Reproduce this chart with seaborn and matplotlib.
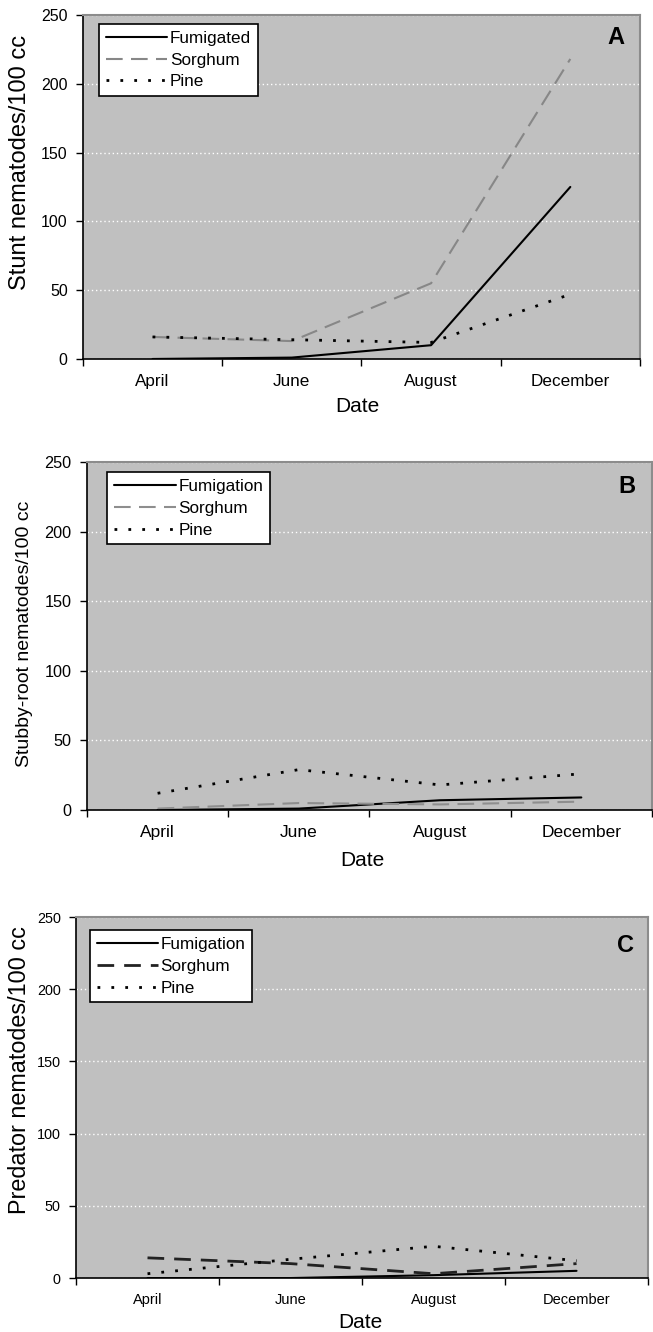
import numpy as np
import pandas as pd
import matplotlib
matplotlib.use("Agg")
import matplotlib.pyplot as plt
from matplotlib.ticker import FixedLocator
import seaborn as sns

# ---------------- data ----------------
months = ["April", "June", "August", "December"]
yticks = [0, 50, 100, 150, 200, 250]

stunt_fumigated = [0, 1, 10, 125]
stunt_sorghum = [16, 13, 55, 218]
stunt_pine = [16, 14, 12, 47]

stubby_fumigation = [0, 1, 7, 9]
stubby_sorghum = [1, 5, 4, 6]
stubby_pine = [12, 29, 18, 26]

pred_fumigation = [0, 0, 2, 5]
pred_sorghum = [14, 10, 3, 10]
pred_pine = [3, 13, 22, 12]

panel_letters = ["A", "B", "C"]
ylabels = ["Stunt nematodes/100 cc", "Stubby-root nematodes/100 cc",
           "Predator nematodes/100 cc"]
legend_names = [["Fumigated", "Sorghum", "Pine"],
                ["Fumigation", "Sorghum", "Pine"],
                ["Fumigation", "Sorghum", "Pine"]]

# ---------------- style ----------------
sns.set_style("ticks")
plt.rcParams["font.family"] = ["Liberation Sans", "DejaVu Sans"]
plt.rcParams["text.color"] = "black"
plt.rcParams["axes.labelcolor"] = "black"
plt.rcParams["xtick.color"] = "black"
plt.rcParams["ytick.color"] = "black"
plt.rcParams["xtick.labelcolor"] = "black"
plt.rcParams["ytick.labelcolor"] = "black"

fig = plt.figure(figsize=(6.53, 13.32), dpi=100)

panels = [
    dict(rect=[0.127, 0.7305, 0.853, 0.2583],
         series=[stunt_fumigated, stunt_sorghum, stunt_pine],
         colors=["black", "#878787", "black"],
         lws=[1.5, 1.5, 2.0],
         styles=["-", (0, (8, 4)), (0, (1, 4))],
         ylab_size=17, ylab_xy=(-0.093, 0.57),
         xlab_xy=(0.492, -0.110),
         xt_size=12.3, yt_size=11.5,
         leg_xy=(0.029, 0.974), letter_xy=(0.957, 0.933)),
    dict(rect=[0.1332, 0.3919, 0.8652, 0.2613],
         series=[stubby_fumigation, stubby_sorghum, stubby_pine],
         colors=["black", "#8e8e8e", "black"],
         lws=[1.5, 1.5, 2.0],
         styles=["-", (0, (8, 4)), (0, (1, 4))],
         ylab_size=14, ylab_xy=(-0.096, 0.506),
         xlab_xy=(0.487, -0.118),
         xt_size=12.5, yt_size=11.7,
         leg_xy=(0.036, 0.971), letter_xy=(0.956, 0.928)),
    dict(rect=[0.1164, 0.0405, 0.876, 0.271],
         series=[pred_fumigation, pred_sorghum, pred_pine],
         colors=["black", "#222222", "black"],
         lws=[1.5, 2.0, 2.0],
         styles=["-", (0, (6, 3.6)), (0, (1, 4))],
         ylab_size=16.8, ylab_xy=(-0.079, 0.576),
         xlab_xy=(0.497, -0.097),
         xt_size=10.5, yt_size=10.4,
         leg_xy=(0.024, 0.964), letter_xy=(0.96, 0.922)),
]

x = np.arange(len(months))

for i, p in enumerate(panels):
    ax = fig.add_axes(p["rect"])
    ax.set_facecolor("#c0c0c0")
    for vals, name, col, lw, ls in zip(p["series"], legend_names[i],
                                       p["colors"], p["lws"], p["styles"]):
        sns.lineplot(x=x, y=vals, ax=ax, color=col, lw=lw, linestyle=ls,
                     label=name, errorbar=None, sort=False)

    ax.set_xlim(-0.5, len(months) - 0.5)
    ax.set_ylim(0, 250)

    # x axis: labels at category centres, tick marks at boundaries
    ax.set_xticks(x)
    ax.set_xticklabels(months, fontsize=p["xt_size"], color="black")
    ax.xaxis.set_minor_locator(FixedLocator(np.arange(-0.5, len(months), 1.0)))
    ax.tick_params(axis="x", which="major", length=0, pad=11)
    ax.tick_params(axis="x", which="minor", length=5, width=1.0,
                   direction="out", color="black")

    ax.set_yticks(yticks)
    ax.set_yticklabels([str(v) for v in yticks], fontsize=p["yt_size"],
                       color="black")
    ax.tick_params(axis="y", length=5, width=1.0, direction="out",
                   color="black", pad=6)

    ax.yaxis.grid(True, color="white", linestyle=(0, (1, 2)), lw=1.0)
    ax.xaxis.grid(False)
    ax.set_axisbelow(True)

    for s in ["left", "bottom"]:
        ax.spines[s].set_color("black")
        ax.spines[s].set_linewidth(1.2)
    for s in ["top", "right"]:
        ax.spines[s].set_visible(True)
        ax.spines[s].set_color("#8c8c8c")
        ax.spines[s].set_linewidth(1.5)

    ax.set_xlabel("Date", fontsize=15, color="black")
    ax.xaxis.set_label_coords(*p["xlab_xy"])
    ax.set_ylabel(ylabels[i], fontsize=p["ylab_size"], color="black")
    ax.yaxis.set_label_coords(*p["ylab_xy"])

    leg = ax.legend(loc="upper left", bbox_to_anchor=p["leg_xy"],
                    borderaxespad=0, frameon=True, fancybox=False,
                    edgecolor="black", framealpha=1, facecolor="white",
                    fontsize=12.3, handlelength=3.6, handletextpad=0.15,
                    labelspacing=0.4, borderpad=0.4, labelcolor="black")
    leg.get_frame().set_linewidth(1.2)

    ax.text(*p["letter_xy"], panel_letters[i], transform=ax.transAxes,
            ha="center", va="center", fontsize=17, fontweight="bold",
            color="black")

fig.savefig("out.png", dpi=100, facecolor="white")
